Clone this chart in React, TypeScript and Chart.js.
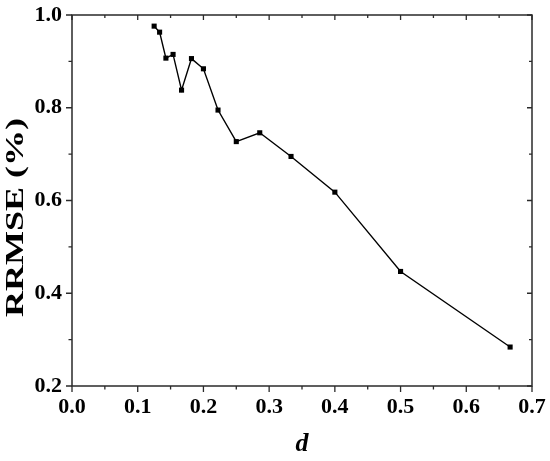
import React, { useEffect, useRef } from "react";
import { Chart, registerables } from "chart.js";

Chart.register(...registerables);

const dValues = [0.125, 0.1333, 0.1429, 0.1538, 0.1667, 0.1818, 0.2, 0.2222, 0.25, 0.2857, 0.3333, 0.4, 0.5, 0.6667];
const rrmseValues = [0.976, 0.963, 0.907, 0.915, 0.838, 0.906, 0.884, 0.795, 0.727, 0.746, 0.695, 0.618, 0.447, 0.284];

const xMajorTicks = [0, 0.1, 0.2, 0.3, 0.4, 0.5, 0.6, 0.7];
const xMinorTicks = [0.05, 0.15, 0.25, 0.35, 0.45, 0.55, 0.65];
const yMajorTicks = [0.2, 0.4, 0.6, 0.8, 1.0];
const yMinorTicks = [0.3, 0.5, 0.7, 0.9];

const yTitle = "RRMSE (%)";
const xTitle = "d";

const FONT = "'Liberation Serif', 'Times New Roman', serif";
const AXIS_COLOR = "#2a2a2a";

const framePlugin = {
  id: "frameTicks",
  afterDraw(chart: any) {
    const { ctx, chartArea } = chart;
    const { left, right, top, bottom } = chartArea;
    const xs = chart.scales.x;
    const ys = chart.scales.y;
    ctx.save();
    ctx.strokeStyle = AXIS_COLOR;
    ctx.lineWidth = 1.5;
    ctx.strokeRect(left, top, right - left, bottom - top);
    ctx.lineWidth = 1.3;
    ctx.beginPath();
    const xTick = (v: number, major: boolean) => {
      const px = xs.getPixelForValue(v);
      ctx.moveTo(px, bottom);
      ctx.lineTo(px, bottom + (major ? 6 : 3.5));
      ctx.moveTo(px, top);
      ctx.lineTo(px, top + (major ? 5 : 3));
    };
    const yTick = (v: number, major: boolean) => {
      const py = ys.getPixelForValue(v);
      ctx.moveTo(left, py);
      ctx.lineTo(left - (major ? 6 : 3.5), py);
      ctx.moveTo(right, py);
      ctx.lineTo(right - (major ? 5 : 3), py);
    };
    xMajorTicks.forEach((v) => xTick(v, true));
    xMinorTicks.forEach((v) => xTick(v, false));
    yMajorTicks.forEach((v) => yTick(v, true));
    yMinorTicks.forEach((v) => yTick(v, false));
    ctx.stroke();
    ctx.restore();

    // y-axis title (wide serif lettering, as in the reference)
    ctx.save();
    ctx.translate(17, 217.5);
    ctx.rotate(-Math.PI / 2);
    ctx.scale(1.44, 1);
    ctx.font = `bold 25px ${FONT}`;
    ctx.fillStyle = "#000";
    ctx.textAlign = "center";
    ctx.textBaseline = "middle";
    ctx.fillText(yTitle, 0, 0);
    ctx.restore();
  },
};

export default function App() {
  const canvasRef = useRef<HTMLCanvasElement | null>(null);

  useEffect(() => {
    if (!canvasRef.current) return;
    const chart = new Chart(canvasRef.current, {
      type: "line",
      data: {
        datasets: [
          {
            data: dValues.map((d, i) => ({ x: d, y: rrmseValues[i] })),
            borderColor: "#000",
            backgroundColor: "#000",
            borderWidth: 1.4,
            pointStyle: "rect",
            pointRadius: 3.6,
            pointBorderWidth: 0,
            tension: 0,
          },
        ],
      },
      options: {
        animation: false,
        responsive: true,
        maintainAspectRatio: false,
        layout: { padding: { left: 0, top: 15, right: 18, bottom: 0 } },
        plugins: { legend: { display: false }, tooltip: { enabled: false } },
        scales: {
          x: {
            type: "linear",
            min: 0,
            max: 0.7,
            afterFit: (s: any) => {
              s.height = 75;
              s.paddingLeft = 0;
              s.paddingRight = 0;
            },
            afterBuildTicks: (s: any) => {
              s.ticks = xMajorTicks.map((v) => ({ value: v }));
            },
            ticks: {
              color: "#000",
              padding: 8,
              maxRotation: 0,
              autoSkip: false,
              font: { family: FONT, size: 22, weight: "bold" },
              callback: (v: any) => Number(v).toFixed(1),
            },
            grid: { display: true, drawOnChartArea: false, drawTicks: false, color: "rgba(0,0,0,0)" },
            border: { display: false },
            title: {
              display: true,
              text: xTitle,
              color: "#000",
              padding: { top: 0, bottom: 1 },
              font: { family: FONT, size: 26, weight: "bold", style: "italic" },
            },
          },
          y: {
            type: "linear",
            min: 0.2,
            max: 1.0,
            afterFit: (s: any) => {
              s.width = 72;
              s.paddingTop = 0;
              s.paddingBottom = 0;
            },
            afterBuildTicks: (s: any) => {
              s.ticks = yMajorTicks.map((v) => ({ value: v }));
            },
            ticks: {
              color: "#000",
              padding: 10,
              autoSkip: false,
              font: { family: FONT, size: 22, weight: "bold" },
              callback: (v: any) => Number(v).toFixed(1),
            },
            grid: { display: true, drawOnChartArea: false, drawTicks: false, color: "rgba(0,0,0,0)" },
            border: { display: false },
            title: { display: false },
          },
        },
      },
      plugins: [framePlugin],
    });
    return () => chart.destroy();
  }, []);

  return (
    <div style={{ position: "fixed", left: 0, top: 0, width: 550, height: 461, background: "#fff" }}>
      <canvas ref={canvasRef} />
    </div>
  );
}
